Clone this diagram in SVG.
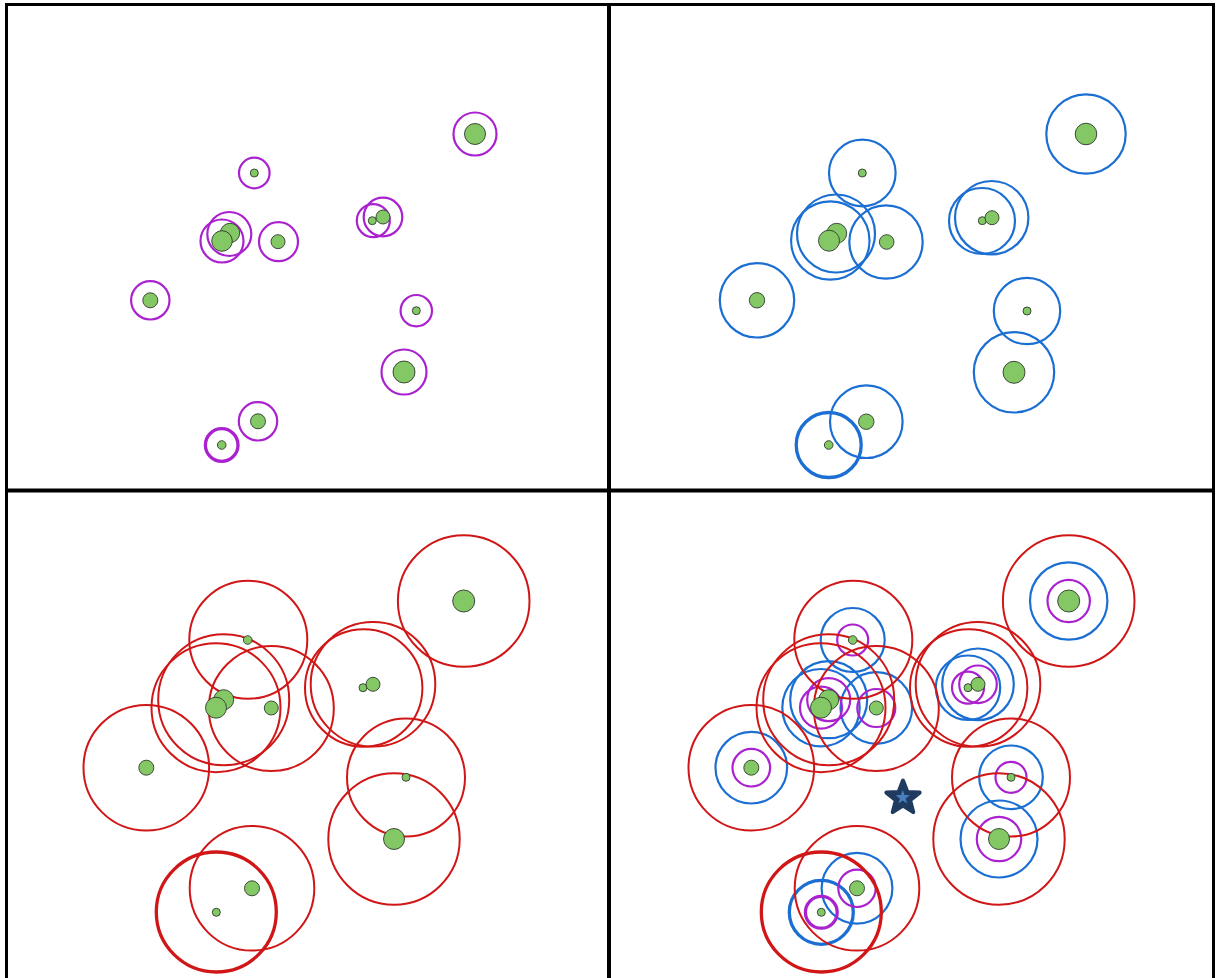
<svg xmlns="http://www.w3.org/2000/svg" width="1217" height="978" viewBox="0 0 1217 978">
<style>
.m{fill:none;stroke:#aa22cf;stroke-width:2.2}
.b{fill:none;stroke:#1b6fd3;stroke-width:2.2}
.r{fill:none;stroke:#d01616;stroke-width:2}
.t{stroke-width:3.3}
.d{fill:#84c865;stroke:#2e3a2e;stroke-width:0.9}
.frame{stroke:#000;fill:none}
</style>
<rect width="1217" height="978" fill="#fff"/>
<g id="panel1">
  <g id="p1-circles">
    <circle class="m" cx="475" cy="134" r="21.5"/>
    <circle class="m" cx="254.3" cy="173" r="15.3"/>
    <circle class="m" cx="229.3" cy="234" r="22"/>
    <circle class="m" cx="222" cy="241" r="21.5"/>
    <circle class="m" cx="278.5" cy="241.7" r="19.5"/>
    <circle class="m" cx="373.3" cy="220.7" r="16.5"/>
    <circle class="m" cx="383" cy="217" r="19.3"/>
    <circle class="m" cx="150.3" cy="300.3" r="19.2"/>
    <circle class="m" cx="416.3" cy="310.7" r="15.7"/>
    <circle class="m" cx="404" cy="372" r="22.5"/>
    <circle class="m" cx="258" cy="421.3" r="19.2"/>
    <circle class="m t" cx="221.7" cy="445" r="16.3"/>
  </g>
  <g id="p1-points">
    <circle class="d" cx="475" cy="134" r="10.5"/>
    <circle class="d" cx="254.3" cy="173" r="4"/>
    <circle class="d" cx="230" cy="233" r="9.7"/>
    <circle class="d" cx="222" cy="241" r="10.3"/>
    <circle class="d" cx="278" cy="241.7" r="7"/>
    <circle class="d" cx="372.3" cy="220.7" r="4"/>
    <circle class="d" cx="383" cy="217" r="7"/>
    <circle class="d" cx="150.3" cy="300.3" r="7.5"/>
    <circle class="d" cx="416.3" cy="310.7" r="4"/>
    <circle class="d" cx="404" cy="372" r="11"/>
    <circle class="d" cx="258" cy="421.3" r="7.5"/>
    <circle class="d" cx="221.7" cy="445" r="4.3"/>
  </g>
</g>
<g id="panel2">
  <g id="p2-circles">
    <circle class="b" cx="1086" cy="134" r="39.7"/>
    <circle class="b" cx="862.3" cy="173" r="33.3"/>
    <circle class="b" cx="836" cy="233.5" r="39"/>
    <circle class="b" cx="830.3" cy="240.5" r="39.2"/>
    <circle class="b" cx="886" cy="242" r="36.7"/>
    <circle class="b" cx="982" cy="221" r="33"/>
    <circle class="b" cx="991.7" cy="217.7" r="36.7"/>
    <circle class="b" cx="757" cy="300.3" r="37.2"/>
    <circle class="b" cx="1027" cy="311" r="33.2"/>
    <circle class="b" cx="1014" cy="372.3" r="40.2"/>
    <circle class="b" cx="866.3" cy="421.7" r="36.3"/>
    <circle class="b t" cx="828.7" cy="445" r="32.5"/>
  </g>
  <g id="p2-points">
    <circle class="d" cx="1086" cy="134" r="10.8"/>
    <circle class="d" cx="862.3" cy="173" r="4"/>
    <circle class="d" cx="836.7" cy="233.3" r="10"/>
    <circle class="d" cx="829" cy="240.7" r="10.5"/>
    <circle class="d" cx="886.7" cy="242" r="7.3"/>
    <circle class="d" cx="982.3" cy="220.7" r="4"/>
    <circle class="d" cx="992" cy="217.7" r="7"/>
    <circle class="d" cx="757" cy="300.3" r="7.7"/>
    <circle class="d" cx="1027" cy="311" r="4"/>
    <circle class="d" cx="1014" cy="372.3" r="11"/>
    <circle class="d" cx="866.3" cy="421.7" r="7.7"/>
    <circle class="d" cx="828.7" cy="445" r="4.3"/>
  </g>
</g>
<g id="panel3">
  <g id="p3-circles">
    <circle class="r" cx="463.7" cy="601" r="65.8"/>
    <circle class="r" cx="248.3" cy="639.7" r="59"/>
    <circle class="r" cx="223.7" cy="699.7" r="65.5"/>
    <circle class="r" cx="216" cy="707.7" r="64.5"/>
    <circle class="r" cx="271.3" cy="708.5" r="62.5"/>
    <circle class="r" cx="363.7" cy="688" r="58.7"/>
    <circle class="r" cx="373" cy="684.3" r="62.3"/>
    <circle class="r" cx="146.3" cy="767.7" r="62.8"/>
    <circle class="r" cx="406" cy="777.5" r="59"/>
    <circle class="r" cx="394" cy="839" r="65.7"/>
    <circle class="r" cx="252" cy="888.3" r="62.3"/>
    <circle class="r t" cx="216.3" cy="912" r="60"/>
  </g>
  <g id="p3-points">
    <circle class="d" cx="463.7" cy="601" r="11"/>
    <circle class="d" cx="247.7" cy="640" r="4.3"/>
    <circle class="d" cx="223.7" cy="699.7" r="10"/>
    <circle class="d" cx="216" cy="707.7" r="10.5"/>
    <circle class="d" cx="271.3" cy="708" r="7"/>
    <circle class="d" cx="363" cy="687.7" r="4"/>
    <circle class="d" cx="373" cy="684.3" r="7"/>
    <circle class="d" cx="146.3" cy="767.7" r="7.5"/>
    <circle class="d" cx="406" cy="777.3" r="4"/>
    <circle class="d" cx="394" cy="839" r="10.5"/>
    <circle class="d" cx="252" cy="888.3" r="7.5"/>
    <circle class="d" cx="216.3" cy="912.3" r="4"/>
  </g>
</g>
<g id="panel4">
  <g id="p4-blue">
    <circle class="b" cx="1068.7" cy="601" r="38.7"/>
    <circle class="b" cx="852.7" cy="640" r="32"/>
    <circle class="b" cx="828.7" cy="699.7" r="38.5"/>
    <circle class="b" cx="821" cy="707.7" r="38.7"/>
    <circle class="b" cx="876.3" cy="708" r="35.8"/>
    <circle class="b" cx="968" cy="687.7" r="32.2"/>
    <circle class="b" cx="978" cy="684.3" r="35.8"/>
    <circle class="b" cx="751.3" cy="767.7" r="35.8"/>
    <circle class="b" cx="1011" cy="777.3" r="31.8"/>
    <circle class="b" cx="999" cy="839" r="38.5"/>
    <circle class="b" cx="857" cy="888.3" r="35.4"/>
    <circle class="b t" cx="821.3" cy="912.3" r="32"/>
  </g>
  <g id="p4-magenta">
    <circle class="m" cx="1068.7" cy="601" r="21.2"/>
    <circle class="m" cx="852.7" cy="640" r="15.5"/>
    <circle class="m" cx="828.7" cy="699.7" r="21.5"/>
    <circle class="m" cx="821" cy="707.7" r="21"/>
    <circle class="m" cx="876.3" cy="708" r="19"/>
    <circle class="m" cx="968" cy="687.7" r="16"/>
    <circle class="m" cx="978" cy="684.3" r="18.8"/>
    <circle class="m" cx="751.3" cy="767.7" r="18.8"/>
    <circle class="m" cx="1011" cy="777.3" r="15.5"/>
    <circle class="m" cx="999" cy="839" r="22.2"/>
    <circle class="m" cx="857" cy="888.3" r="18.7"/>
    <circle class="m t" cx="821.3" cy="912.3" r="15.9"/>
  </g>
  <g id="p4-red">
    <circle class="r" cx="1068.7" cy="601" r="65.8"/>
    <circle class="r" cx="853.3" cy="639.7" r="59"/>
    <circle class="r" cx="828.7" cy="699.7" r="65.5"/>
    <circle class="r" cx="821" cy="707.7" r="64.5"/>
    <circle class="r" cx="876.3" cy="708.5" r="62.5"/>
    <circle class="r" cx="968.7" cy="688" r="58.7"/>
    <circle class="r" cx="978" cy="684.3" r="62.3"/>
    <circle class="r" cx="751.3" cy="767.7" r="62.8"/>
    <circle class="r" cx="1011" cy="777.5" r="59"/>
    <circle class="r" cx="999" cy="839" r="65.7"/>
    <circle class="r" cx="857" cy="888.3" r="62.3"/>
    <circle class="r t" cx="821.3" cy="912" r="60"/>
  </g>
  <g id="p4-points">
    <circle class="d" cx="1068.7" cy="601" r="11"/>
    <circle class="d" cx="852.7" cy="640" r="4.3"/>
    <circle class="d" cx="828.7" cy="699.7" r="10"/>
    <circle class="d" cx="821" cy="707.7" r="10.5"/>
    <circle class="d" cx="876.3" cy="708" r="7"/>
    <circle class="d" cx="968" cy="687.7" r="4"/>
    <circle class="d" cx="978" cy="684.3" r="7"/>
    <circle class="d" cx="751.3" cy="767.7" r="7.5"/>
    <circle class="d" cx="1011" cy="777.3" r="4"/>
    <circle class="d" cx="999" cy="839" r="10.5"/>
    <circle class="d" cx="857" cy="888.3" r="7.5"/>
    <circle class="d" cx="821.3" cy="912.3" r="4"/>
  </g>
  <g id="star">
    <polygon points="903,780.5 907.41,791.93 919.64,792.59 910.13,800.32 913.29,812.16 903,805.5 892.71,812.16 895.87,800.32 886.36,792.59 898.59,791.93" fill="#1f3b60" stroke="#1f3b60" stroke-width="4" stroke-linejoin="round"/>
    <polygon points="902.8,790 904.56,795.07 909.93,795.18 905.65,798.43 907.21,803.57 902.8,800.5 898.39,803.57 899.95,798.43 895.67,795.18 901.04,795.07" fill="#4a7fc2"/>
  </g>
</g>
<g id="frame" class="frame">
  <line x1="6.5" y1="3" x2="6.5" y2="978" stroke-width="3"/>
  <line x1="5" y1="4.5" x2="1215" y2="4.5" stroke-width="3"/>
  <line x1="1213.5" y1="3" x2="1213.5" y2="978" stroke-width="3"/>
  <line x1="609" y1="3" x2="609" y2="978" stroke-width="4"/>
  <line x1="5" y1="490.5" x2="1215" y2="490.5" stroke-width="4"/>
</g>
</svg>
